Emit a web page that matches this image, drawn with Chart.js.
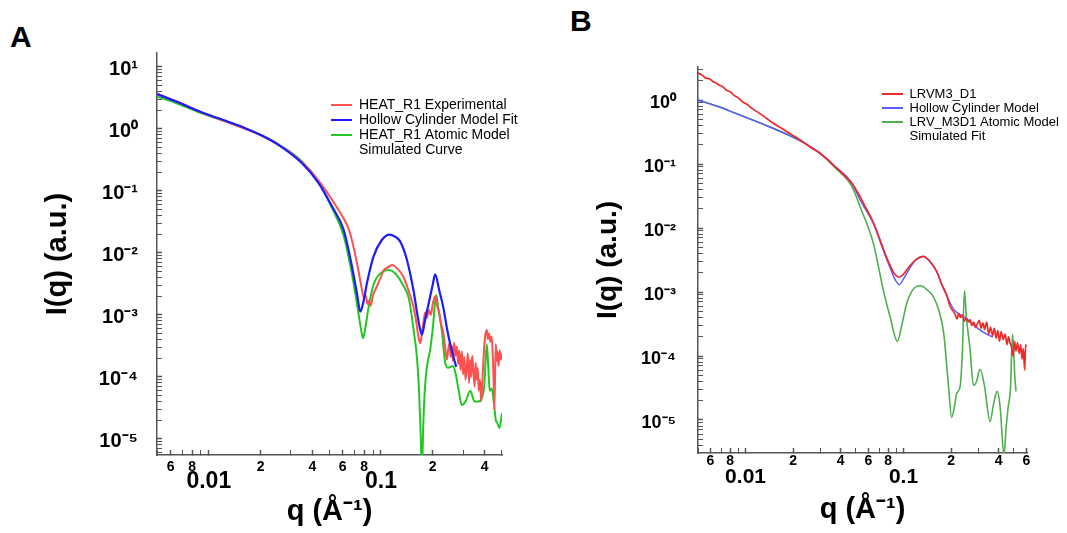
<!DOCTYPE html>
<html>
<head>
<meta charset="utf-8">
<script src="https://cdn.jsdelivr.net/npm/chart.js@4.4.1/dist/chart.umd.min.js"></script>
<style>
  body { margin: 0; background: #fff; }
  #page { position: relative; width: 1067px; height: 533px; overflow: hidden; background: #fff; }
  .panel { position: absolute; top: 0; }
  .letter { position: absolute; font: bold 30px 'Liberation Sans', Arial, sans-serif; line-height: 30px; color: #000; }
</style>
</head>
<body>
<div id="page">
  <div class="letter" style="left:10px; top:22px;">A</div>
  <div class="letter" style="left:570px; top:6px;">B</div>
  <div class="panel" style="left:0;"><canvas id="chartA" width="533" height="533"></canvas></div>
  <div class="panel" style="left:533px;"><canvas id="chartB" width="534" height="533"></canvas></div>
</div>
<script>
// ---- panel A : HEAT_R1 ----
const qExpA = [
  0.005, 0.0058, 0.0065, 0.0075, 0.0084, 0.0095, 0.0115, 0.0135, 0.0163, 0.02,
  0.0255, 0.03, 0.0348, 0.039, 0.0435, 0.048, 0.052, 0.056, 0.0607, 0.0658,
  0.0695, 0.0726, 0.0769, 0.0795, 0.0813, 0.0835, 0.0848, 0.087, 0.09, 0.0948,
  0.1, 0.1035, 0.11, 0.116, 0.123, 0.1352, 0.145, 0.1545, 0.16, 0.165,
  0.169, 0.173, 0.177, 0.181, 0.185, 0.19, 0.195, 0.2, 0.2065, 0.212,
  0.218, 0.224, 0.2306, 0.236, 0.2415, 0.246, 0.25, 0.254, 0.258, 0.262,
  0.266, 0.271, 0.276, 0.281, 0.285, 0.29, 0.295, 0.3, 0.305, 0.31,
  0.3155, 0.32, 0.325, 0.33, 0.334, 0.339, 0.344, 0.35, 0.355, 0.36,
  0.365, 0.37, 0.3765, 0.382, 0.388, 0.395, 0.403, 0.412, 0.418, 0.425,
  0.432, 0.44, 0.447, 0.452, 0.456, 0.4645, 0.47, 0.475, 0.482, 0.49,
  0.497, 0.505
];
const iExpA = [
  3.7, 3.15, 2.8, 2.35, 2.05, 1.75, 1.45, 1.22, 1.0, 0.79,
  0.55, 0.41, 0.29, 0.21, 0.145, 0.1, 0.072, 0.052, 0.036, 0.022,
  0.012, 0.0068, 0.0029, 0.0019, 0.0021, 0.0015, 0.0017, 0.0014, 0.0021, 0.0029,
  0.0041, 0.0052, 0.0059, 0.0064, 0.0058, 0.0041, 0.0024, 0.00136, 0.0008, 0.00045,
  0.00035, 0.0005, 0.0008, 0.0011, 0.0009, 0.0012, 0.001, 0.0015, 0.002, 0.0014,
  0.0011, 0.0007, 0.0005, 0.0003, 0.00019, 0.00028, 0.00035, 0.00021, 0.00032, 0.00018,
  0.00036, 0.00022, 0.00031, 0.00016, 0.00027, 0.00013, 0.00026, 0.00011, 0.00021, 0.00009,
  0.00015, 0.00024, 0.00008, 0.00019, 0.0001, 0.00022, 0.00013, 0.00007, 0.00017, 0.00009,
  0.00014, 0.00006, 0.00009, 0.00004, 0.00008, 0.00022, 0.00045, 0.00057, 0.00041, 0.0005,
  0.00037, 0.00045, 0.0002, 0.00008, 0.00003, 0.00034, 0.00018, 0.00026, 0.00015, 0.00027,
  0.00019, 0.00024
];
const qFitA = [
  0.005, 0.0065, 0.0084, 0.0115, 0.0163, 0.02, 0.0255, 0.0348, 0.0435, 0.052,
  0.0607, 0.067, 0.0726, 0.0759, 0.079, 0.083, 0.0906, 0.1014, 0.112, 0.12,
  0.129, 0.1416, 0.1545, 0.162, 0.1685, 0.173, 0.18, 0.189, 0.2, 0.2065,
  0.218, 0.2306, 0.242, 0.252, 0.2735
];
const iFitA = [
  3.65, 2.75, 2.02, 1.47, 1.03, 0.8, 0.55, 0.28, 0.133, 0.056,
  0.0235, 0.0072, 0.0022, 0.00113, 0.0016, 0.0033, 0.0088, 0.0163, 0.0198, 0.0185,
  0.0155, 0.0077, 0.0025, 0.0011, 0.0006, 0.00048, 0.0008, 0.0015, 0.0031, 0.0045,
  0.0025, 0.0013, 0.0006, 0.00035, 0.000145
];
const qAtomA = [
  0.005, 0.0065, 0.0084, 0.0115, 0.0163, 0.02, 0.0255, 0.0348, 0.0435, 0.052,
  0.0607, 0.067, 0.0726, 0.0765, 0.0787, 0.081, 0.085, 0.0906, 0.1014, 0.1107,
  0.12, 0.1355, 0.1455, 0.1545, 0.162, 0.1665, 0.1705, 0.173, 0.1765, 0.181,
  0.186, 0.193, 0.2, 0.2094, 0.216, 0.226, 0.236, 0.246, 0.262, 0.272,
  0.283, 0.295, 0.31, 0.33, 0.35, 0.368, 0.385, 0.398, 0.412, 0.42,
  0.428, 0.44, 0.452, 0.465, 0.475, 0.487, 0.505
];
const iAtomA = [
  3.35, 2.6, 1.95, 1.43, 1.02, 0.8, 0.56, 0.3, 0.14, 0.053,
  0.019, 0.0055, 0.0015, 0.0006, 0.00042, 0.0006, 0.0014, 0.0031, 0.0049, 0.0053,
  0.0048, 0.0029, 0.0018, 0.0006, 0.0002, 0.00006, 0.00001, 0.000003, 0.00002, 0.00008,
  0.00016, 0.00027, 0.0006, 0.0021, 0.0012, 0.00055, 0.00017, 0.00014, 0.00015, 0.00011,
  0.00006, 0.000035, 0.00004, 0.00006, 0.00004, 0.00004, 0.000045, 0.00007, 0.00034, 0.00015,
  0.00006, 0.000065, 0.00004, 0.00002, 0.000018, 0.000015, 0.000026
];
const legendA = ['HEAT_R1 Experimental', 'Hollow Cylinder Model Fit', ['HEAT_R1 Atomic Model', 'Simulated Curve']];

// ---- panel B : LRVM3_D1 ----
const qExpB = [
  0.005, 0.0053, 0.0056, 0.0059, 0.0062, 0.0065, 0.0068, 0.0072, 0.0076, 0.008,
  0.0085, 0.009, 0.0096, 0.0102, 0.011, 0.012, 0.013, 0.014, 0.0155, 0.017,
  0.019, 0.021, 0.0235, 0.026, 0.029, 0.033, 0.0368, 0.042, 0.047, 0.052,
  0.057, 0.0644, 0.07, 0.0745, 0.0822, 0.088, 0.094, 0.1, 0.11, 0.12,
  0.1334, 0.147, 0.162, 0.175, 0.1876, 0.197, 0.2065, 0.212, 0.218, 0.224,
  0.23, 0.236, 0.242, 0.25, 0.257, 0.2636, 0.27, 0.278, 0.286, 0.294,
  0.302, 0.31, 0.318, 0.326, 0.336, 0.346, 0.356, 0.366, 0.376, 0.385,
  0.395, 0.405, 0.415, 0.428, 0.44, 0.452, 0.462, 0.472, 0.482, 0.493,
  0.505, 0.515, 0.527, 0.54, 0.552, 0.563, 0.573, 0.585, 0.593, 0.6
];
const iExpB = [
  2.65, 2.45, 2.2, 2.15, 1.95, 1.85, 1.72, 1.6, 1.42, 1.35,
  1.17, 1.08, 0.93, 0.86, 0.74, 0.64, 0.56, 0.49, 0.41, 0.36,
  0.3, 0.26, 0.215, 0.18, 0.153, 0.118, 0.091, 0.067, 0.05, 0.034,
  0.022, 0.0122, 0.0072, 0.0047, 0.0026, 0.0019, 0.0017, 0.0019, 0.0026, 0.0032,
  0.0036, 0.003, 0.0021, 0.0013, 0.0009, 0.0006, 0.0005, 0.00045, 0.00038, 0.00046,
  0.0004, 0.00044, 0.00035, 0.00039, 0.00034, 0.00037, 0.0003, 0.00034, 0.00028, 0.00032,
  0.00036, 0.00027, 0.00033, 0.00026, 0.00034, 0.00022, 0.00028, 0.00021, 0.00027, 0.00019,
  0.00025, 0.00017, 0.00024, 0.00018, 0.00022, 0.00015, 0.0002, 0.00016, 0.00014, 0.0001,
  0.00017, 0.00012, 0.00016, 0.00011, 0.00015, 0.00009, 0.00013, 0.00006, 0.00015, 0.00014
];
const qFitB = [
  0.005, 0.0067, 0.0085, 0.011, 0.0139, 0.0178, 0.0227, 0.0289, 0.0368, 0.047,
  0.0531, 0.0644, 0.0745, 0.0822, 0.088, 0.094, 0.1, 0.11, 0.12, 0.1334,
  0.147, 0.162, 0.175, 0.1876, 0.2065, 0.225, 0.245, 0.2636, 0.29, 0.315,
  0.336, 0.355, 0.369
];
const iFitB = [
  1.0, 0.79, 0.63, 0.49, 0.39, 0.3, 0.224, 0.155, 0.092, 0.051,
  0.0274, 0.0118, 0.0045, 0.0024, 0.0016, 0.0013, 0.0016, 0.0024, 0.0032, 0.0036,
  0.003, 0.0021, 0.0013, 0.00088, 0.00055, 0.00045, 0.0004, 0.00034, 0.00028, 0.00024,
  0.00022, 0.000205, 0.0002
];
const qAtomB = [
  0.005, 0.0067, 0.0085, 0.011, 0.0139, 0.0178, 0.0227, 0.0289, 0.0368, 0.047,
  0.0531, 0.0644, 0.0745, 0.0822, 0.0915, 0.098, 0.1047, 0.115, 0.128, 0.14,
  0.1545, 0.168, 0.18, 0.192, 0.2018, 0.21, 0.217, 0.228, 0.236, 0.243,
  0.25, 0.2636, 0.277, 0.29, 0.305, 0.325, 0.353, 0.372, 0.392, 0.41,
  0.432, 0.447, 0.46, 0.475, 0.49, 0.498, 0.506, 0.515
];
const iAtomB = [
  1.0, 0.79, 0.63, 0.49, 0.39, 0.3, 0.224, 0.153, 0.088, 0.045,
  0.0215, 0.0058, 0.00107, 0.00041, 0.00017, 0.00032, 0.00066, 0.0011, 0.00125, 0.0011,
  0.00085, 0.0005, 0.00022, 0.000037, 0.000011, 0.000016, 0.000026, 0.000033, 0.00012, 0.00105,
  0.0004, 0.00013, 0.000035, 0.00004, 0.000062, 0.000035, 0.0000095, 0.000018, 0.000028, 0.000015,
  0.0000028, 0.000008, 0.000016, 0.00003, 0.00022, 0.00012, 0.00005, 0.000028
];
const legendB = ['LRVM3_D1', 'Hollow Cylinder Model', ['LRV_M3D1 Atomic Model', 'Simulated Fit']];

// ---- axes ----
const xTicksA = [0.005, 0.006, 0.007, 0.008, 0.009, 0.01, 0.02, 0.03, 0.04, 0.05, 0.06, 0.07, 0.08, 0.09, 0.1, 0.2, 0.3, 0.4, 0.5];
const xLabelsA = ['', '6', '', '8', '', ['', '0.01'], '2', '', '4', '', '6', '', '8', '', ['', '0.1'], '2', '', '4', ''];
const xTicksB = [0.005, 0.006, 0.007, 0.008, 0.009, 0.01, 0.02, 0.03, 0.04, 0.05, 0.06, 0.07, 0.08, 0.09, 0.1, 0.2, 0.3, 0.4, 0.5, 0.6];
const xLabelsB = ['', '6', '', '8', '', ['', '0.01'], '2', '', '4', '', '6', '', '8', '', ['', '0.1'], '2', '', '4', '', '6'];
const xMajor = [0.01, 0.1];
const yDecades = [1e-5, 1e-4, 1e-3, 1e-2, 1e-1, 1, 10];
const yDecadeLabels = ['10⁻⁵', '10⁻⁴', '10⁻³', '10⁻²', '10⁻¹', '10⁰', '10¹'];

const FONT = "'Liberation Sans', Arial, Helvetica, sans-serif";
Chart.defaults.font.family = FONT;

function pts(q, v) { return q.map((x, i) => ({ x: x, y: v[i] })); }

function yTickValues(min, max) {
  const out = [];
  for (let e = -6; e <= 1; e++) {
    for (let k = 1; k <= 9; k++) {
      const v = k * Math.pow(10, e);
      if (v >= min && v <= max) out.push(v);
    }
  }
  return out;
}
function decadeIndex(v) {
  const l = Math.log10(v);
  if (Math.abs(l - Math.round(l)) > 1e-6) return -1;
  return yDecades.findIndex(d => Math.round(Math.log10(d)) === Math.round(l));
}

// moves the legend box to a fixed spot inside the plot
const legendPos = {
  id: 'legendPos',
  beforeDraw(chart, args, opts) {
    const lg = chart.legend;
    if (!lg) return;
    const w = lg.width;
    lg.left = opts.x; lg.top = opts.y;
    lg.right = opts.x + w; lg.bottom = opts.y + 300;
  }
};

function makeChart(id, p) {
  return new Chart(document.getElementById(id), {
    type: 'line',
    data: {
      datasets: p.series.map(s => ({
        label: Array.isArray(s.legend) ? s.legend.join(' ') : s.legend,
        legendText: s.legend,
        data: pts(s.q, s.v),
        borderColor: s.color,
        backgroundColor: s.color,
        borderWidth: s.width,
        pointRadius: 0,
        fill: false,
        cubicInterpolationMode: 'monotone',
        order: s.order
      }))
    },
    options: {
      responsive: false,
      animation: false,
      events: [],
      layout: { padding: p.pad },
      scales: {
        x: {
          type: 'logarithmic',
          min: p.xMin, max: p.xMax,
          afterFit: sc => { sc.height = p.xHeight; },
          afterBuildTicks: sc => { sc.ticks = p.xTicks.map(v => ({ value: v })); },
          grid: {
            drawOnChartArea: false, drawTicks: true, tickLength: -5,
            tickColor: '#555',
            tickWidth: c => (c.tick && (xMajor.includes(c.tick.value) || p.xLabels[c.index]) ? 1.5 : 1)
          },
          border: { display: true, color: '#555', width: 1.5 },
          ticks: {
            autoSkip: false, maxRotation: 0, minRotation: 0,
            padding: p.xPad, color: '#000',
            callback: (v, i) => p.xLabels[i],
            font: c => (c.tick && xMajor.includes(c.tick.value))
              ? { size: p.majorSize, weight: 'bold', lineHeight: p.majorLH }
              : { size: p.minorSize, weight: 'bold', lineHeight: '16px' }
          },
          title: {
            display: true, text: 'q (Å⁻¹)', color: '#000',
            font: { size: 29, weight: 'bold', lineHeight: 1 },
            padding: { top: 0, bottom: p.xTitlePad }
          }
        },
        y: {
          type: 'logarithmic',
          min: p.yMin, max: p.yMax,
          afterFit: sc => { sc.width = p.yWidth; },
          afterBuildTicks: sc => { sc.ticks = yTickValues(p.yMin, p.yMax).map(v => ({ value: v })); },
          grid: {
            drawOnChartArea: false, drawTicks: true, tickLength: -5,
            tickColor: '#555',
            tickWidth: c => (c.tick && decadeIndex(c.tick.value) >= 0 ? 1.5 : 1)
          },
          border: { display: true, color: '#555', width: 1.5 },
          ticks: {
            autoSkip: false, padding: p.yPad, color: '#000', labelOffset: 3,
            callback: v => { const k = decadeIndex(v); return k >= 0 ? yDecadeLabels[k] : ''; },
            font: { size: p.ySize, weight: 'bold' }
          },
          title: {
            display: true, text: 'I(q) (a.u.)', color: '#000',
            font: { size: p.yTitleSize, weight: 'bold', lineHeight: 1 },
            padding: { top: p.yTitlePad, bottom: 0 }
          }
        }
      },
      plugins: {
        tooltip: { enabled: false },
        legend: {
          position: 'chartArea',
          align: 'start',
          labels: {
            boxWidth: 21, boxHeight: 2, padding: 1,
            color: '#222',
            font: { size: p.legendSize, lineHeight: 1.1 },
            generateLabels: chart => chart.data.datasets.map((ds, i) => ({
              text: ds.legendText,
              fillStyle: ds.borderColor,
              strokeStyle: ds.borderColor,
              lineWidth: 0,
              hidden: false,
              datasetIndex: i
            }))
          }
        },
        legendPos: p.legendAt
      }
    },
    plugins: [legendPos]
  });
}

makeChart('chartA', {
  series: [
    { legend: legendA[0], q: qExpA, v: iExpA, color: '#ff5050', width: 2, order: 1 },
    { legend: legendA[1], q: qFitA, v: iFitA, color: '#1c1cff', width: 2.2, order: 0 },
    { legend: legendA[2], q: qAtomA, v: iAtomA, color: '#22c822', width: 2, order: 2 }
  ],
  xMin: 0.005, xMax: 0.505, yMin: 5.5e-6, yMax: 16.8,
  pad: { left: 30, right: 31, top: 53, bottom: 0 },
  xHeight: 78, yWidth: 127,
  xTicks: xTicksA, xLabels: xLabelsA,
  xPad: 9, majorSize: 23, majorLH: '15px', minorSize: 14,
  xTitlePad: 6.5,
  yPad: 24, ySize: 20, yTitleSize: 29, yTitlePad: 13.5,
  legendSize: 14, legendAt: { x: 330, y: 97 }
});

makeChart('chartB', {
  series: [
    { legend: legendB[0], q: qExpB, v: iExpB, color: '#ee2a2a', width: 1.7, order: 0 },
    { legend: legendB[1], q: qFitB, v: iFitB, color: '#5a5aff', width: 1.5, order: 1 },
    { legend: legendB[2], q: qAtomB, v: iAtomB, color: '#4fae4f', width: 1.6, order: 2 }
  ],
  xMin: 0.005, xMax: 0.605, yMin: 3.05e-6, yMax: 3.28,
  pad: { left: 50, right: 40, top: 67, bottom: 0 },
  xHeight: 80, yWidth: 115,
  xTicks: xTicksB, xLabels: xLabelsB,
  xPad: 5, majorSize: 21, majorLH: '16px', minorSize: 14,
  xTitlePad: 8.5,
  yPad: 27, ySize: 18, yTitleSize: 28, yTitlePad: 11.5,
  legendSize: 13, legendAt: { x: 348, y: 86.5 }
});
</script>
</body>
</html>
